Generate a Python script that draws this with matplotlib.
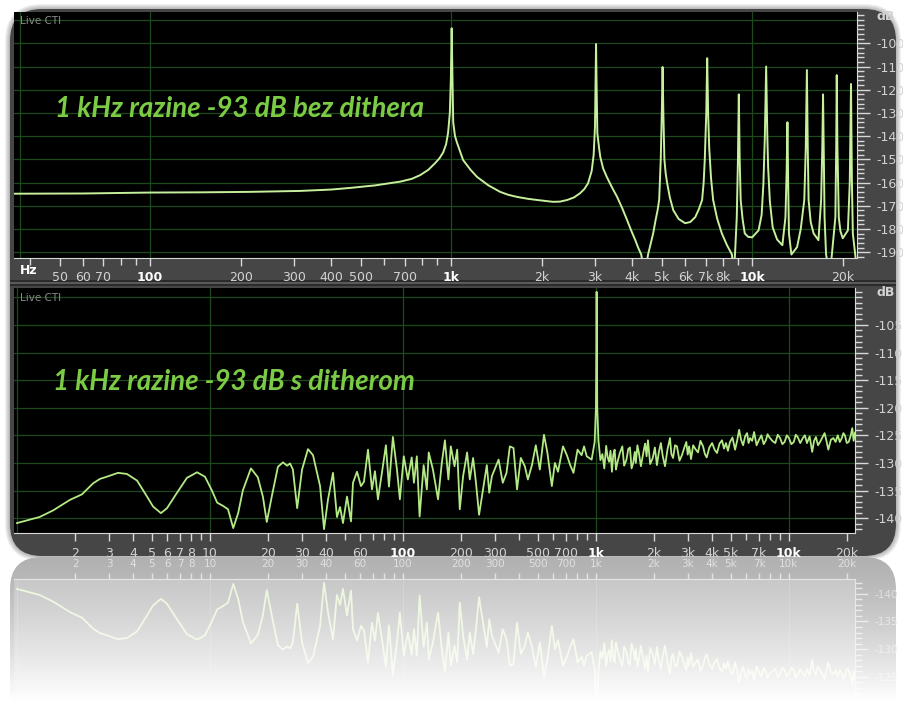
import numpy as np
import matplotlib
matplotlib.use("Agg")
import matplotlib.pyplot as plt
from matplotlib.patches import FancyBboxPatch, Rectangle
from matplotlib.ticker import LogLocator, MultipleLocator, NullFormatter

W, H = 904, 713

# ---- top panel: 1 kHz at -93 dB, no dither ----
top_freq = [35, 60, 100, 150, 215, 315, 400, 462, 560, 677, 740, 789, 840, 885, 915, 941,
            962, 977, 990, 998, 1004, 1010, 1016, 1030, 1047, 1096, 1160, 1220, 1330, 1455,
            1550, 1660, 1800, 1930, 2180, 2300, 2430, 2560, 2680, 2770, 2850, 2930, 2975,
            3005, 3020, 3030, 3040, 3060, 3100, 3130, 3200, 3290, 3420, 3560, 3700, 3840,
            3960, 4090, 4180, 4280, 4400, 4510, 4600, 4690, 4780, 4850, 4910, 4970, 5010,
            5040, 5070, 5110, 5160, 5220, 5330, 5470, 5700, 5990, 6230, 6470, 6650, 6820,
            6900, 6960, 7040, 7090, 7140, 7200, 7300, 7420, 7650, 7930, 8250, 8570, 8660,
            8770, 8890, 8970, 9030, 9090, 9160, 9300, 9450, 9700, 10000, 10500, 10750, 10900,
            11020, 11130, 11230, 11300, 11450, 11700, 12100, 12600, 12900, 13020, 13100,
            13170, 13250, 13500, 14100, 14500, 14900, 15070, 15200, 15300, 15400, 15650,
            16000, 16600, 16950, 17100, 17200, 17300, 17400, 17600, 18100, 18400, 18900,
            19020, 19100, 19200, 19400, 19650, 20000, 20800, 21100, 21300, 21450, 21600,
            22000, 22400]
top_db = [-164.8, -164.7, -164.3, -164.2, -164.0, -163.6, -163.0, -162.3, -161.2, -159.6,
          -158.4, -156.8, -154.5, -151.6, -149.5, -147.0, -143.5, -138.5, -130, -115, -93.5,
          -115, -134, -140, -143, -150.3, -154.5, -157.6, -161.2, -164, -165.3, -166.2,
          -167.0, -167.5, -168.3, -168.2, -167.5, -166.4, -164.6, -162.8, -160.3, -155,
          -148, -136, -115, -100.3, -115, -138.7, -145, -149, -154, -157.6, -162, -166.2,
          -171, -176.1, -180.5, -184.8, -188, -191.0, -200, -191, -186.5, -181.9, -176,
          -172, -167.5, -150, -130, -110.2, -130, -150, -156, -160.3, -166.5, -171.9,
          -175.7, -177.5, -177, -174.9, -171.5, -167.5, -160, -150, -130, -106.4, -130,
          -145, -158, -167.5, -175.5, -181.9, -187, -191, -200, -191, -174.9, -150, -122,
          -150, -167.5, -176, -181.9, -183.4, -183.6, -180.6, -174, -160.3, -140, -110,
          -140, -153.4, -168, -179.3, -184.5, -187, -175, -155, -134, -160, -181.9, -191,
          -187.8, -180, -167.5, -145, -111.5, -145, -167.5, -177, -181.9, -184.8, -167.5,
          -145, -122, -150, -175, -191, -200, -191, -175, -145, -113.7, -145, -175, -181,
          -184, -180.6, -160, -117.5, -160, -181.9, -191, -200]

# ---- bottom panel: 1 kHz at -93 dB, with dither ----
bot_freq = [1.0, 1.31, 1.54, 1.88, 2.17, 2.48, 2.69, 2.92, 3.34, 3.71, 4.19, 4.72, 5.07, 5.57,
            5.99, 6.75, 7.6, 8.57, 9.42, 10.2, 10.9, 11.7, 12.4, 13.2, 14.0, 14.8, 16.3, 17.7,
            18.8, 19.7, 20.9, 22.5, 23.9, 25.1, 26.0, 26.9, 28.3, 30.0, 32.2, 34.2, 35.8, 37.2,
            39.0, 40.9, 43.4, 45.5, 47.2, 48.9, 51.3, 53.8, 55.1, 57.8, 60.6, 62.8, 65.9, 69.1,
            71.6, 74.2, 77.8, 81.6, 84.6, 88.7, 93.1, 96.4, 101, 106, 111, 114, 118, 122, 128,
            133, 136, 143, 152, 159, 165, 172, 177, 185, 191, 197, 205, 215, 222, 231, 239, 248,
            260, 272, 280, 289, 303, 313, 329, 344, 358, 374, 390, 408, 428, 444, 466, 488, 512,
            538, 560, 591, 613, 636, 675, 707, 736, 765, 803, 843, 868, 896, 950, 985, 1000,
            1008, 1016, 1030, 1055, 1080, 1105, 1130, 1150, 1170, 1190, 1210, 1230, 1250, 1270,
            1290, 1330, 1370, 1400, 1440, 1470, 1500, 1530, 1560, 1590, 1610, 1640, 1670, 1710,
            1750, 1780, 1800, 1830, 1860, 1910, 1970, 2020, 2070, 2120, 2170, 2220, 2280, 2350,
            2420, 2460, 2510, 2570, 2630, 2710, 2790, 2860, 2940, 2990, 3040, 3110, 3190, 3280,
            3380, 3480, 3590, 3670, 3750, 3870, 4000, 4120, 4240, 4370, 4500, 4610, 4720, 4830,
            4950, 5100, 5260, 5390, 5520, 5650, 5790, 5930, 6070, 6180, 6290, 6450, 6600, 6700,
            6800, 7000, 7200, 7400, 7600, 7750, 7900, 8200, 8500, 8750, 9000, 9250, 9500, 9750,
            10000, 10300, 10600, 10850, 11100, 11450, 11800, 12100, 12400, 12800, 13200, 13500,
            13800, 14150, 14500, 14900, 15300, 15650, 16000, 16500, 17000, 17450, 17900, 18350,
            18800, 19150, 19500, 19950, 20400, 20850, 21300, 21650, 22000]
bot_db = [-140.9, -139.8, -138.6, -136.7, -135.7, -133.7, -132.9, -132.5, -131.8, -132.0,
          -133.2, -136.1, -137.9, -139.1, -138.2, -135.4, -132.7, -131.7, -132.5, -134.9,
          -137.2, -137.8, -138.4, -141.8, -139.1, -135.0, -131.0, -132.6, -136.1, -140.7,
          -136.1, -130.7, -129.9, -130.5, -130.1, -131.2, -138.2, -131.2, -127.5, -128.6,
          -131.6, -134.2, -142.0, -136.6, -131.8, -139.8, -138.0, -140.9, -136.1, -140.6,
          -133.6, -131.6, -134.2, -133.4, -127.6, -134.8, -131.5, -136.6, -131.8, -126.8,
          -134.3, -125.3, -131.2, -136.6, -128.8, -133.0, -129.0, -133.6, -128.8, -139.7,
          -130.4, -134.8, -128.1, -131.2, -136.6, -130.0, -125.9, -133.0, -127.0, -130.6,
          -127.6, -138.4, -132.4, -128.1, -133.0, -129.1, -133.6, -139.4, -134.8, -130.4,
          -135.4, -132.4, -130.6, -129.4, -133.6, -131.8, -127.0, -127.3, -134.8, -129.1,
          -130.6, -133.0, -130.4, -126.8, -131.2, -124.9, -128.1, -134.2, -130.0, -131.6,
          -127.0, -128.6, -130.4, -131.8, -127.6, -128.6, -127.0, -128.8, -129.4, -126.2,
          -120, -99.0, -120, -125.9, -129.5, -128.4, -131.0, -126.9, -129.0, -129.8, -127.8,
          -131.6, -128.5, -127.6, -131.2, -130.0, -128.2, -127.0, -130.5, -129.4, -127.5,
          -127.2, -131.0, -130.0, -128.0, -130.0, -126.8, -128.2, -130.6, -128.6, -127.2,
          -126.5, -128.8, -125.9, -130.2, -129.1, -127.2, -130.4, -128.0, -126.4, -128.8,
          -130.6, -127.5, -125.5, -128.4, -129.1, -126.8, -127.0, -129.6, -128.6, -127.4,
          -126.2, -128.5, -127.0, -129.3, -126.8, -127.5, -128.1, -126.0, -127.0, -128.4,
          -129.0, -127.2, -126.4, -127.6, -128.2, -126.5, -125.9, -127.4, -126.4, -127.8,
          -126.2, -125.4, -127.6, -126.0, -124.0, -125.8, -126.8, -125.2, -124.6, -126.4,
          -125.5, -126.0, -124.4, -125.6, -126.8, -125.8, -125.0, -126.6, -125.9, -124.8,
          -125.3, -126.0, -126.4, -124.9, -125.5, -126.6, -126.2, -125.0, -125.5, -126.6,
          -126.2, -124.9, -125.3, -126.4, -125.5, -125.0, -126.4, -125.2, -128.0, -126.0,
          -125.3, -126.8, -126.2, -125.4, -124.6, -126.0, -127.6, -125.8, -125.5, -126.2,
          -125.0, -126.2, -125.5, -124.6, -125.0, -126.4, -126.2, -125.2, -123.7, -126.0,
          -124.5]

top_xticks = [50, 60, 70, 100, 200, 300, 400, 500, 700, 1000, 2000, 3000, 4000, 5000,
              6000, 7000, 8000, 10000, 20000]
top_xlabels = ["50", "60", "70", "100", "200", "300", "400", "500", "700", "1k", "2k",
               "3k", "4k", "5k", "6k", "7k", "8k", "10k", "20k"]
bot_xticks = [2, 3, 4, 5, 6, 7, 8, 10, 20, 30, 40, 60, 100, 200, 300, 500, 700, 1000,
              2000, 3000, 4000, 5000, 7000, 10000, 20000]
bot_xlabels = ["2", "3", "4", "5", "6", "7", "8", "10", "20", "30", "40", "60", "100",
               "200", "300", "500", "700", "1k", "2k", "3k", "4k", "5k", "7k", "10k", "20k"]
bold_labels = ["100", "1k", "10k"]
top_yticks = [-100, -110, -120, -130, -140, -150, -160, -170, -180, -190]
bot_yticks = [-105, -110, -115, -120, -125, -130, -135, -140]
refl_yticks = [-125, -130, -135, -140]
top_hgrid = [-90] + top_yticks
bot_hgrid = [-100] + bot_yticks
top_vgrid = [37, 100, 1000, 10000]
bot_vgrid = [1, 10, 100, 1000, 10000]

title_top = "1 kHz razine -93 dB bez dithera"
title_bot = "1 kHz razine -93 dB s ditherom"

LINE_TOP = "#c6f09c"
LINE_BOT = "#b4ea86"
GRID = "#1c481c"
FRAME = "#464646"
LBL = "#d2d2d2"


def px_rect(l, t, r, b):
    return [l / W, 1 - b / H, (r - l) / W, (b - t) / H]


fig = plt.figure(figsize=(W / 100, H / 100), dpi=100)
fig.patch.set_facecolor("white")

# background / frame drawn in pixel coordinates
bg = fig.add_axes([0, 0, 1, 1], zorder=0)
bg.set_xlim(0, W)
bg.set_ylim(H, 0)
bg.axis("off")
for i in range(6):
    bg.add_patch(FancyBboxPatch((10 - i, 9 - i), 886 + 2 * i, 547 + 2 * i,
                                boxstyle="round,pad=0,rounding_size=%d" % (32 + i),
                                fc="black", ec="none", alpha=0.06))
bg.add_patch(FancyBboxPatch((10, 9), 886, 547, boxstyle="round,pad=0,rounding_size=32",
                            fc=FRAME, ec="none"))
bg.add_patch(Rectangle((10, 280), 886, 6, fc="#2b2b2b", ec="none"))
bg.add_patch(Rectangle((10, 282), 886, 2, fc="#5a5a5a", ec="none"))
# reflection base
bg.add_patch(FancyBboxPatch((10, 557), 886, 260, boxstyle="round,pad=0,rounding_size=32",
                            fc="#a4a4a4", ec="none"))


def style_axes(ax, xticks, xlabels, yticks, minor_y, pad, lblcolor, tickcolor, size=9):
    ax.set_xscale("log")
    ax.set_xticks(xticks, xlabels)
    ax.xaxis.set_minor_locator(LogLocator(base=10, subs=np.arange(2, 10)))
    ax.xaxis.set_minor_formatter(NullFormatter())
    ax.yaxis.tick_right()
    ax.set_yticks(yticks, [str(v) for v in yticks])
    ax.yaxis.set_minor_locator(MultipleLocator(minor_y))
    ax.tick_params(axis="x", which="both", direction="out", color=tickcolor,
                   labelcolor=lblcolor, labelsize=size, pad=pad, width=1)
    ax.tick_params(axis="x", which="major", length=6)
    ax.tick_params(axis="x", which="minor", length=5)
    ax.tick_params(axis="y", which="both", direction="out", color=tickcolor,
                   labelcolor=lblcolor, labelsize=size, pad=5, width=1)
    ax.tick_params(axis="y", which="major", length=9)
    ax.tick_params(axis="y", which="minor", length=5)
    for s in ("top", "left"):
        ax.spines[s].set_visible(False)
    for s in ("bottom", "right"):
        ax.spines[s].set_color(tickcolor)
    for t in ax.get_xticklabels():
        if t.get_text() in bold_labels:
            t.set_fontweight("bold")
            t.set_color("white")


# top panel
ax1 = fig.add_axes(px_rect(14, 12, 857, 258), zorder=1)
ax1.set_facecolor("black")
for v in top_hgrid:
    ax1.axhline(v, color=GRID, lw=0.9, zorder=1)
for v in top_vgrid:
    ax1.axvline(v, color=GRID, lw=0.9, zorder=1)
ax1.plot(top_freq, top_db, color=LINE_TOP, lw=1.4, zorder=3)
ax1.set_xlim(35.3, 22300)
ax1.set_ylim(-192.5, -86.5)
style_axes(ax1, top_xticks, top_xlabels, top_yticks, 2, 3, LBL, "#d8d8d8")

# bottom panel
ax2 = fig.add_axes(px_rect(14, 288, 855, 533), zorder=1)
ax2.set_facecolor("black")
for v in bot_hgrid:
    ax2.axhline(v, color=GRID, lw=0.9, zorder=1)
for v in bot_vgrid:
    ax2.axvline(v, color=GRID, lw=0.9, zorder=1)
ax2.plot(bot_freq, bot_db, color=LINE_BOT, lw=1.3, zorder=3)
ax2.set_xlim(0.965, 22000)
ax2.set_ylim(-142.7, -98.3)
style_axes(ax2, bot_xticks, bot_xlabels, bot_yticks, 1, 4, LBL, "#d8d8d8")

# reflection of the bottom panel
ax3 = fig.add_axes(px_rect(14, 579, 855, 824), zorder=1)
ax3.set_facecolor("#b8b8b8")
for v in bot_vgrid:
    ax3.axvline(v, color="#c4c4c4", lw=0.8, zorder=1)
ax3.plot(bot_freq, bot_db, color="#e6f4d2", lw=1.3, zorder=3)
ax3.set_xlim(0.965, 22000)
ax3.set_ylim(-98.3, -142.7)
style_axes(ax3, bot_xticks, bot_xlabels, refl_yticks, 1, 3, "#d6d6d6", "#dedede", size=7.5)
ax3.xaxis.tick_top()
ax3.tick_params(axis="x", which="both", length=4)
ax3.spines["top"].set_visible(True)
ax3.spines["top"].set_color("#dedede")
ax3.spines["bottom"].set_visible(False)
for t in ax3.get_xticklabels():
    t.set_color("#dadada")

# fade to white
fade = fig.add_axes(px_rect(0, 557, W, H), zorder=5)
fade.axis("off")
ramp = np.linspace(0, 1, 160)
rgba = np.ones((160, 1, 4))
rgba[:, 0, 3] = np.clip(0.15 + 0.95 * ramp ** 1.3, 0, 1)
fade.imshow(rgba, aspect="auto", extent=(0, 1, 0, 1), interpolation="bilinear")
fade.set_xlim(0, 1)
fade.set_ylim(0, 1)

# texts
tkw = dict(fontfamily="Lato", fontstyle="italic", fontweight="bold", color="#7bcb45",
           fontsize=20, va="baseline", ha="left", zorder=6)
fig.text(55 / W, 1 - 117 / H, title_top, **tkw)
fig.text(53 / W, 1 - 390 / H, title_bot, **tkw)
for y in (21, 298):
    fig.text(20 / W, 1 - y / H, "Live CTI", color="#8a8a8a", fontsize=7.5, va="center",
             ha="left", zorder=6)
fig.text(20 / W, 1 - 271 / H, "Hz", color="white", fontsize=9, fontweight="bold",
         va="center", ha="left", zorder=6)
for y in (17, 293):
    fig.text(877 / W, 1 - y / H, "dB", color=LBL, fontsize=9, fontweight="bold",
             va="center", ha="left", zorder=6)

fig.savefig("out.png", dpi=100, facecolor="white")
